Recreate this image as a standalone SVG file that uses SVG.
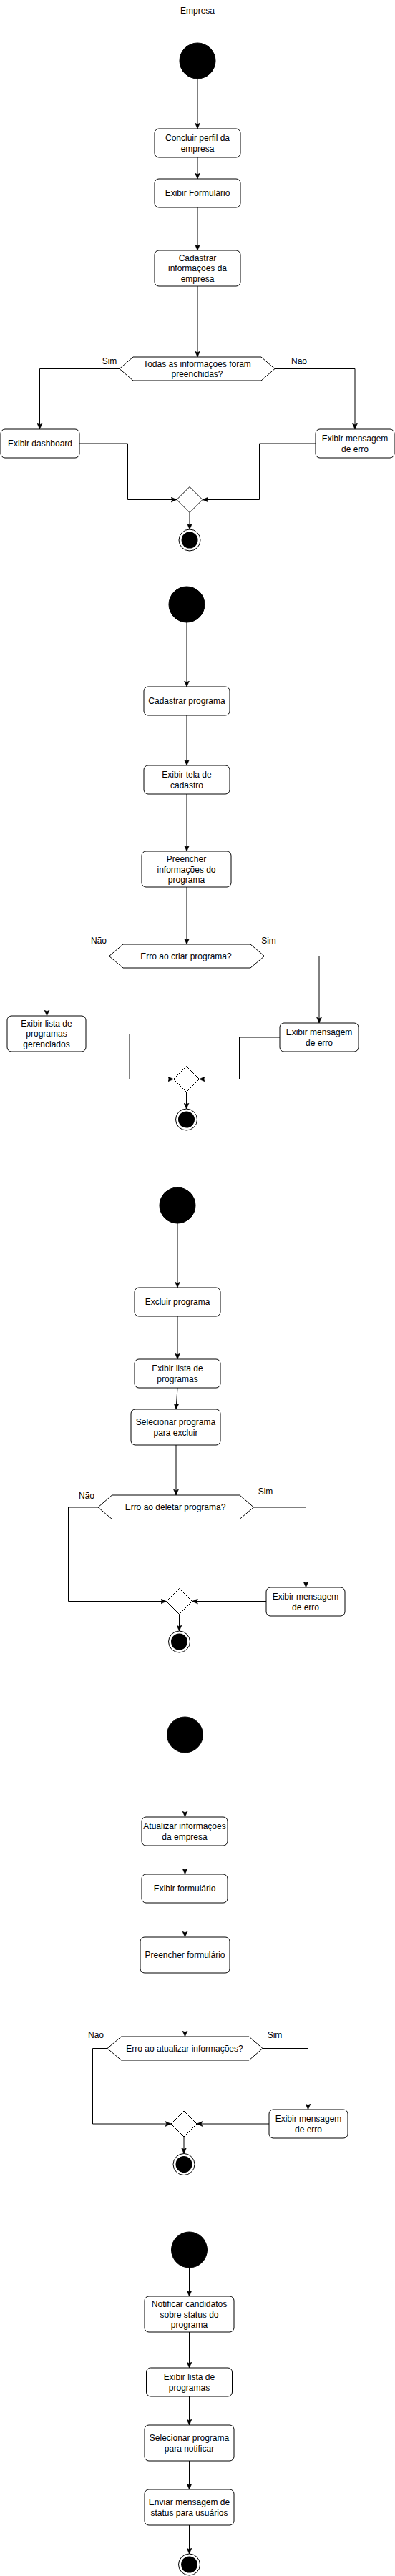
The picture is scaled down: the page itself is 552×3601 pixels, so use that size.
<svg xmlns="http://www.w3.org/2000/svg" width="552" height="3601" viewBox="0 0 552 3601">
<style>
.bg{fill:#ffffff}
.box{fill:#ffffff;stroke:#000000;stroke-width:1}
.dec{fill:#ffffff;stroke:#000000;stroke-width:1}
.start{fill:#000000;stroke:#000000;stroke-width:1}
.endo{fill:#ffffff;stroke:#000000;stroke-width:1}
.endi{fill:#000000;stroke:none}
.t{font-family:"Liberation Sans",Arial,Helvetica,sans-serif;font-size:12px;fill:#000000;text-anchor:middle}
.c{fill:none;stroke:#000000;stroke-width:1;marker-end:url(#arr)}
</style>
<defs>
<marker id="arr" markerUnits="userSpaceOnUse" markerWidth="8" markerHeight="8" viewBox="0 0 8 8" refX="8" refY="4" orient="auto">
<path d="M0,0.5 L8,4 L0,7.5 L1.8,4 Z" fill="#000000" stroke="#000000" stroke-width="0.5"/>
</marker>
</defs>
<rect class="bg" x="0" y="0" width="552" height="3601"/>

<g id="connectors">
<!-- section 1 -->
<path class="c" d="M276,110 L276,180"/>
<path class="c" d="M276,220 L276,250"/>
<path class="c" d="M276,290 L276,350"/>
<path class="c" d="M276,400 L276,499"/>
<path class="c" d="M167,515.5 L55.5,515.5 L55.5,600"/>
<path class="c" d="M384,515.5 L496,515.5 L496,600"/>
<path class="c" d="M111,620 L178.5,620 L178.5,698.5 L247,698.5"/>
<path class="c" d="M441,620 L362.5,620 L362.5,698.5 L283,698.5"/>
<path class="c" d="M265,716.5 L265,740"/>
<!-- section 2 -->
<path class="c" d="M261,870 L261,960"/>
<path class="c" d="M261,1000 L261,1070"/>
<path class="c" d="M261,1110 L261,1190"/>
<path class="c" d="M261,1240 L261,1320"/>
<path class="c" d="M152.5,1336.5 L65.5,1336.5 L65.5,1420"/>
<path class="c" d="M369.5,1336.5 L446,1336.5 L446,1430"/>
<path class="c" d="M120,1445.5 L181,1445.5 L181,1508.5 L242.5,1508.5"/>
<path class="c" d="M391,1450 L334.5,1450 L334.5,1508.5 L278.5,1508.5"/>
<path class="c" d="M260.5,1526.5 L260.5,1550"/>
<!-- section 3 -->
<path class="c" d="M248,1710 L248,1800"/>
<path class="c" d="M248,1840 L248,1900"/>
<path class="c" d="M248,1940 L246,1970"/>
<path class="c" d="M246,2020 L246,2090"/>
<path class="c" d="M137,2107 L95.5,2107 L95.5,2238.5 L232.5,2238.5"/>
<path class="c" d="M354.5,2107 L427.5,2107 L427.5,2219"/>
<path class="c" d="M372,2238.5 L268.5,2238.5"/>
<path class="c" d="M250.5,2256.5 L250.5,2280"/>
<!-- section 4 -->
<path class="c" d="M258.5,2450 L258.5,2540"/>
<path class="c" d="M258.5,2580 L258.5,2620"/>
<path class="c" d="M258.5,2660 L258.5,2708"/>
<path class="c" d="M258.5,2758 L258.5,2847"/>
<path class="c" d="M150,2863.5 L129.5,2863.5 L129.5,2969 L239,2969"/>
<path class="c" d="M367,2863.5 L430.5,2863.5 L430.5,2949"/>
<path class="c" d="M376,2969 L275,2969"/>
<path class="c" d="M257,2987 L257,3010.5"/>
<!-- section 5 -->
<path class="c" d="M264.5,3170 L264.5,3210"/>
<path class="c" d="M264.5,3260 L264.5,3310"/>
<path class="c" d="M264.5,3350 L264.5,3390"/>
<path class="c" d="M264.5,3440 L264.5,3480"/>
<path class="c" d="M264.5,3530 L264.5,3570"/>
</g>

<g id="title"><text class="t" x="276" y="19">Empresa</text></g>

<!-- Section 1 -->
<g id="s1-start"><circle class="start" cx="276" cy="85" r="25"/></g>
<g id="s1-concluir"><rect class="box" x="216" y="180" width="120" height="40" rx="6"/><text class="t" x="276" y="197">Concluir perfil da</text><text class="t" x="276" y="212">empresa</text></g>
<g id="s1-exibir-form"><rect class="box" x="216" y="250" width="120" height="40" rx="6"/><text class="t" x="276" y="274">Exibir Formulário</text></g>
<g id="s1-cadastrar"><rect class="box" x="216" y="350" width="120" height="50" rx="6"/><text class="t" x="276" y="364.5">Cadastrar</text><text class="t" x="276" y="379">informações da</text><text class="t" x="276" y="393.5">empresa</text></g>
<g id="s1-decision"><polygon class="dec" points="167,515.5 186,499 365,499 384,515.5 365,532 186,532"/><text class="t" x="275.5" y="512.5">Todas as informações foram</text><text class="t" x="275.5" y="527">preenchidas?</text></g>
<g id="s1-label-sim"><text class="t" x="153" y="509">Sim</text></g>
<g id="s1-label-nao"><text class="t" x="418" y="509">Não</text></g>
<g id="s1-dashboard"><rect class="box" x="1" y="600" width="110" height="40" rx="6"/><text class="t" x="56" y="624">Exibir dashboard</text></g>
<g id="s1-erro"><rect class="box" x="441" y="600" width="110" height="40" rx="6"/><text class="t" x="496" y="617">Exibir mensagem</text><text class="t" x="496" y="632">de erro</text></g>
<g id="s1-merge"><polygon class="dec" points="265,680.5 283,698.5 265,716.5 247,698.5"/></g>
<g id="s1-end"><circle class="endo" cx="265" cy="755" r="15"/><circle class="endi" cx="265" cy="755" r="11.5"/></g>

<!-- Section 2 -->
<g id="s2-start"><circle class="start" cx="261" cy="845" r="25"/></g>
<g id="s2-cadastrar"><rect class="box" x="201" y="960" width="120" height="40" rx="6"/><text class="t" x="261" y="984">Cadastrar programa</text></g>
<g id="s2-tela"><rect class="box" x="201" y="1070" width="120" height="40" rx="6"/><text class="t" x="261" y="1087">Exibir tela de</text><text class="t" x="261" y="1102">cadastro</text></g>
<g id="s2-preencher"><rect class="box" x="198" y="1190" width="125" height="50" rx="6"/><text class="t" x="260.5" y="1205">Preencher</text><text class="t" x="260.5" y="1219.5">informações do</text><text class="t" x="260.5" y="1234">programa</text></g>
<g id="s2-decision"><polygon class="dec" points="152.5,1336.5 172,1320 350,1320 369.5,1336.5 350,1353 172,1353"/><text class="t" x="260" y="1341">Erro ao criar programa?</text></g>
<g id="s2-label-nao"><text class="t" x="138" y="1319">Não</text></g>
<g id="s2-label-sim"><text class="t" x="375.5" y="1319">Sim</text></g>
<g id="s2-lista"><rect class="box" x="10" y="1420" width="110" height="50" rx="6"/><text class="t" x="65" y="1434.5">Exibir lista de</text><text class="t" x="65" y="1449">programas</text><text class="t" x="65" y="1463.5">gerenciados</text></g>
<g id="s2-erro"><rect class="box" x="391" y="1430" width="110" height="40" rx="6"/><text class="t" x="446" y="1447">Exibir mensagem</text><text class="t" x="446" y="1461.5">de erro</text></g>
<g id="s2-merge"><polygon class="dec" points="260.5,1490.5 278.5,1508.5 260.5,1526.5 242.5,1508.5"/></g>
<g id="s2-end"><circle class="endo" cx="260.5" cy="1565" r="15"/><circle class="endi" cx="260.5" cy="1565" r="11.5"/></g>

<!-- Section 3 -->
<g id="s3-start"><circle class="start" cx="248" cy="1685" r="25"/></g>
<g id="s3-excluir"><rect class="box" x="188" y="1800" width="120" height="40" rx="6"/><text class="t" x="248" y="1824">Excluir programa</text></g>
<g id="s3-lista"><rect class="box" x="188" y="1900" width="120" height="40" rx="6"/><text class="t" x="248" y="1917">Exibir lista de</text><text class="t" x="248" y="1932">programas</text></g>
<g id="s3-selecionar"><rect class="box" x="183" y="1970" width="125" height="50" rx="6"/><text class="t" x="245.5" y="1992">Selecionar programa</text><text class="t" x="245.5" y="2007">para excluir</text></g>
<g id="s3-decision"><polygon class="dec" points="137,2107 156.5,2090 335,2090 354.5,2107 335,2123.5 156.5,2123.5"/><text class="t" x="245" y="2111">Erro ao deletar programa?</text></g>
<g id="s3-label-nao"><text class="t" x="121" y="2095">Não</text></g>
<g id="s3-label-sim"><text class="t" x="371" y="2089">Sim</text></g>
<g id="s3-erro"><rect class="box" x="372" y="2219" width="110" height="40" rx="6"/><text class="t" x="427" y="2236">Exibir mensagem</text><text class="t" x="427" y="2251">de erro</text></g>
<g id="s3-merge"><polygon class="dec" points="250.5,2220.5 268.5,2238.5 250.5,2256.5 232.5,2238.5"/></g>
<g id="s3-end"><circle class="endo" cx="250.5" cy="2295" r="15"/><circle class="endi" cx="250.5" cy="2295" r="11.5"/></g>

<!-- Section 4 -->
<g id="s4-start"><circle class="start" cx="258.5" cy="2425" r="25"/></g>
<g id="s4-atualizar"><rect class="box" x="198" y="2540" width="120" height="40" rx="6"/><text class="t" x="258" y="2557">Atualizar informações</text><text class="t" x="258" y="2572">da empresa</text></g>
<g id="s4-exibir"><rect class="box" x="198" y="2620" width="120" height="40" rx="6"/><text class="t" x="258" y="2644">Exibir formulário</text></g>
<g id="s4-preencher"><rect class="box" x="196" y="2708" width="125" height="50" rx="6"/><text class="t" x="258.5" y="2737">Preencher formulário</text></g>
<g id="s4-decision"><polygon class="dec" points="150,2863.5 169.5,2847 348,2847 367,2863.5 348,2880 169.5,2880"/><text class="t" x="258" y="2868">Erro ao atualizar informações?</text></g>
<g id="s4-label-nao"><text class="t" x="134" y="2849">Não</text></g>
<g id="s4-label-sim"><text class="t" x="384" y="2849">Sim</text></g>
<g id="s4-erro"><rect class="box" x="376" y="2949" width="110" height="40" rx="6"/><text class="t" x="431" y="2966">Exibir mensagem</text><text class="t" x="431" y="2981">de erro</text></g>
<g id="s4-merge"><polygon class="dec" points="257,2951 275,2969 257,2987 239,2969"/></g>
<g id="s4-end"><circle class="endo" cx="257" cy="3025.5" r="15"/><circle class="endi" cx="257" cy="3025.5" r="11.5"/></g>

<!-- Section 5 -->
<g id="s5-start"><circle class="start" cx="264.5" cy="3145" r="25"/></g>
<g id="s5-notificar"><rect class="box" x="202" y="3210" width="125" height="50" rx="6"/><text class="t" x="264.5" y="3225">Notificar candidatos</text><text class="t" x="264.5" y="3239.5">sobre status do</text><text class="t" x="264.5" y="3254">programa</text></g>
<g id="s5-lista"><rect class="box" x="204.5" y="3310" width="120" height="40" rx="6"/><text class="t" x="264.5" y="3327">Exibir lista de</text><text class="t" x="264.5" y="3341.5">programas</text></g>
<g id="s5-selecionar"><rect class="box" x="202" y="3390" width="125" height="50" rx="6"/><text class="t" x="264.5" y="3412">Selecionar programa</text><text class="t" x="264.5" y="3426.5">para notificar</text></g>
<g id="s5-enviar"><rect class="box" x="202" y="3480" width="125" height="50" rx="6"/><text class="t" x="264.5" y="3502">Enviar mensagem de</text><text class="t" x="264.5" y="3516.5">status para usuários</text></g>
<g id="s5-end"><circle class="endo" cx="264.5" cy="3585" r="15"/><circle class="endi" cx="264.5" cy="3585" r="11.5"/></g>
</svg>
